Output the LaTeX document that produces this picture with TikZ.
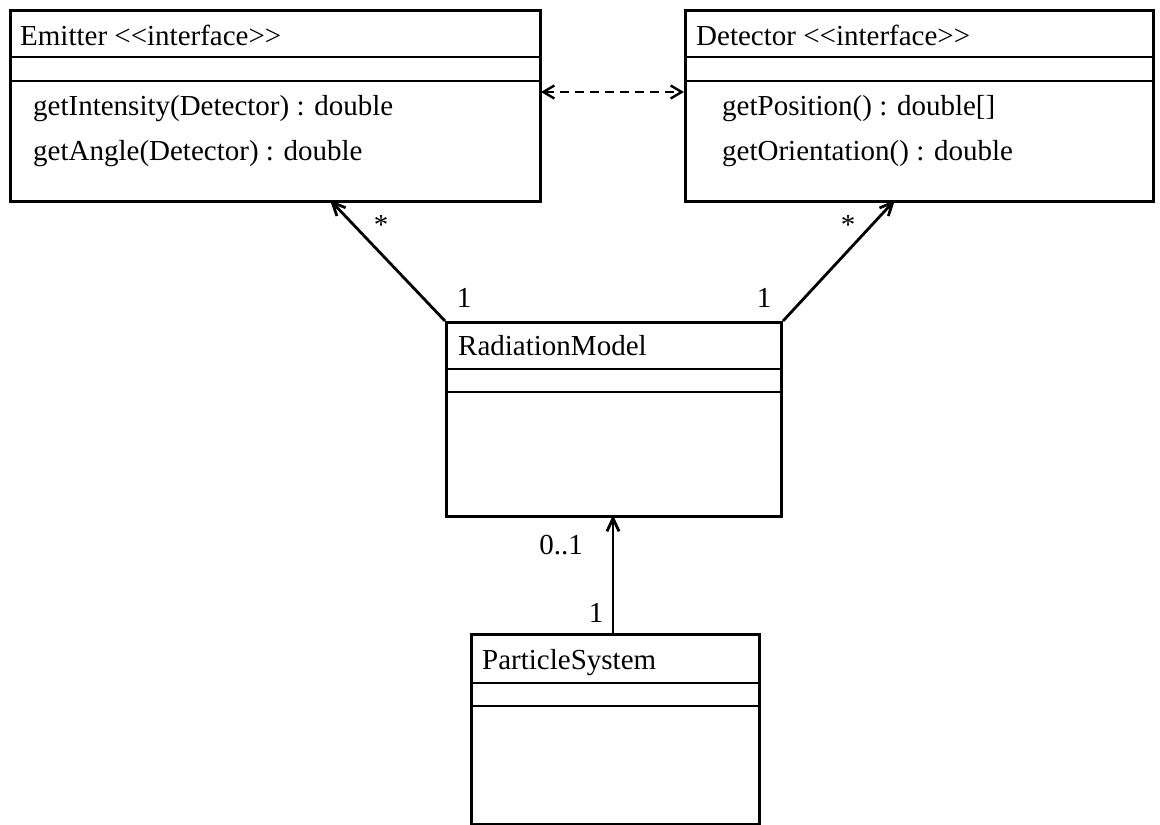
\documentclass[tikz,border=0pt]{standalone}
\usepackage{fontspec}
\setmainfont{Liberation Serif}
\usetikzlibrary{arrows.meta,calc}
\begin{document}
\begin{tikzpicture}[x=1pt,y=-1pt,
  umlbox/.style={draw, line width=3pt, rectangle, inner sep=0pt, anchor=north west},
  sep/.style={line width=2.7pt},
  txt/.style={anchor=base west, inner sep=0pt, font=\fontsize{29}{34}\selectfont},
  mult/.style={anchor=center, inner sep=0pt, font=\fontsize{29}{34}\selectfont},
  assoc/.style={line width=2.8pt, -{Straight Barb[length=13pt,width=12pt,line width=2.8pt]}},
  dep/.style={line width=2.2pt, dash pattern=on 9pt off 6pt,
    {Straight Barb[length=11pt,width=13pt,line width=2.4pt]}-{Straight Barb[length=11pt,width=13pt,line width=2.4pt]}}]
\useasboundingbox (0,0) rectangle (1160,825);

% class boxes
\node[umlbox, minimum width=530pt, minimum height=191pt] (em) at (9,9) {};
\node[umlbox, minimum width=468pt, minimum height=191pt] (de) at (684,9) {};
\node[umlbox, minimum width=335pt, minimum height=194pt] (rm) at (445,321) {};
\node[umlbox, minimum width=288pt, minimum height=190pt] (ps) at (470,633) {};

% compartments
\draw[sep] (em.west |- 0,57) -- (em.east |- 0,57);
\draw[sep] (em.west |- 0,81) -- (em.east |- 0,81);
\draw[sep] (de.west |- 0,57) -- (de.east |- 0,57);
\draw[sep] (de.west |- 0,81) -- (de.east |- 0,81);
\draw[sep] (rm.west |- 0,369) -- (rm.east |- 0,369);
\draw[sep] (rm.west |- 0,392) -- (rm.east |- 0,392);
\draw[sep] (ps.west |- 0,683) -- (ps.east |- 0,683);
\draw[sep] (ps.west |- 0,706) -- (ps.east |- 0,706);

% texts
\node[txt] (emT) at (20,45) {Emitter <{}<interface>{}>};
\node[txt] (emM1) at (33,115) {getIntensity(Detector) : double};
\node[txt] (emM2) at (33,160) {getAngle(Detector) : double};
\node[txt] (deT) at (696,45) {Detector <{}<interface>{}>};
\node[txt] (deM1) at (722,115) {getPosition() : double[]};
\node[txt] (deM2) at (722,160) {getOrientation() : double};
\node[txt] (rmT) at (458,355) {RadiationModel};
\node[txt] (psT) at (482,669) {ParticleSystem};

% association ends
\coordinate (emA) at (330,200);
\coordinate (deA) at (895,200);
\coordinate (rmA) at (613,515);
\coordinate (psA) at (613,633);

\draw[assoc] (rm.north west) -- (emA);
\draw[assoc] (rm.north east) -- (deA);
\draw[assoc] (psA) -- (rmA);
\coordinate (dL) at (541,92);
\coordinate (dR) at (684,92);
\draw[dep] (dL) -- (dR);

% multiplicities
\node[mult] (m1) at (381,225) {*};
\node[mult] (m2) at (848,225) {*};
\node[mult] (m3) at (464,298) {1};
\node[mult] (m4) at (764,298) {1};
\node[mult] (m5) at (561,545) {0..1};
\node[mult] (m6) at (596,613) {1};
\end{tikzpicture}
\end{document}
